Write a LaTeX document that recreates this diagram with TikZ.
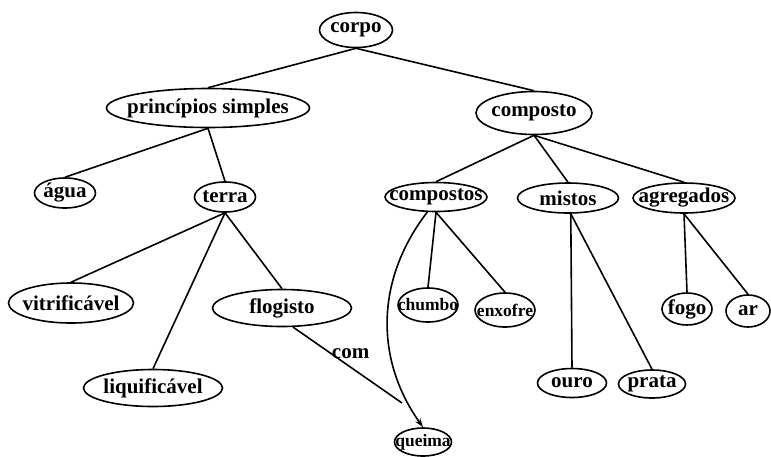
\documentclass[tikz,border=0pt]{standalone}
\usepackage{fontspec}
\setmainfont{Liberation Serif}
\usepackage{tikz}
\usetikzlibrary{shapes.geometric,arrows.meta}
\newcommand{\nb}[1]{\makebox[0pt]{#1}}

\begin{document}
\begin{tikzpicture}[x=1pt,y=-1pt,line width=1.6pt,
    every node/.style={font=\fontsize{21}{25}\selectfont\bfseries},
    conc/.style 2 args={ellipse, draw, inner sep=0pt, minimum width=#1, minimum height=#2},
    tiny/.style={font=\fontsize{17.5}{21}\selectfont\bfseries}]
      \useasboundingbox (0,0) rectangle (771,456);
      \node[name=corpo, conc={73pt}{35pt}] at (356,30) {\nb{corpo}};
      \node[name=simples, conc={203pt}{39pt}] at (208,108) {\nb{princípios simples}};
      \node[name=agua, conc={61pt}{30pt}] at (65,193) {\nb{água}};
      \node[name=terra, conc={61pt}{30pt}] at (225,197) {\nb{terra}};
      \node[name=composto, conc={116pt}{43pt}] at (534,113) {\nb{composto}};
      \node[name=compostos, conc={102pt}{29pt}] at (436,197) {\nb{compostos}};
      \node[name=mistos, conc={101pt}{30pt}] at (568,198) {\nb{mistos}};
      \node[name=agregados, conc={102pt}{30pt}] at (684,198) {\nb{agregados}};
      \node[name=vitri, conc={125pt}{40pt}] at (71,303) {\nb{vitrificável}};
      \node[name=liqui, conc={139pt}{37pt}] at (153,388) {\nb{liquificável}};
      \node[name=flogisto, conc={139pt}{37pt}] at (282,308) {\nb{flogisto}};
      \node[name=chumbo, conc={60pt}{34pt}, tiny] at (428,305) {\nb{chumbo}};
      \node[name=enxofre, conc={60pt}{34pt}, tiny] at (505,310) {\nb{enxofre}};
      \node[name=fogo, conc={50pt}{32pt}] at (687,309) {\nb{fogo}};
      \node[name=ar, conc={44pt}{32pt}] at (748,311) {\nb{ar}};
      \node[name=ouro, conc={69pt}{29pt}] at (572,383) {\nb{ouro}};
      \node[name=prata, conc={67pt}{28pt}] at (652,384) {\nb{prata}};
      \node[name=queima, conc={57pt}{28pt}, tiny] at (423,442) {\nb{queima}};
      \coordinate (meet) at (402,403);
      \draw (corpo.south) -- (simples.north);
      \draw (corpo.south) -- (composto.north);
      \draw (simples.south) -- (agua.north);
      \draw (simples.south) -- (terra.north);
      \draw (terra.south) -- (vitri.north);
      \draw (terra.south) -- (liqui.north);
      \draw (terra.south) -- (flogisto.north);
      \draw (composto.south) -- (compostos.north);
      \draw (composto.south) -- (mistos.north);
      \draw (composto.south) -- (agregados.north);
      \draw (compostos.south) -- (chumbo.north);
      \draw (compostos.south) -- (enxofre.north);
      \draw (mistos.280) -- (ouro.north);
      \draw (mistos.280) -- (prata.north);
      \draw (agregados.south) -- (fogo.north);
      \draw (agregados.south) -- (ar.north);
      \draw (flogisto.-60) -- node[name=com, pos=0.35, anchor=west, inner sep=0pt] {com} (meet);
      \draw[-{Stealth[length=9pt,width=6pt]}] (compostos.240) .. controls (375,280) and (375,360) .. (queima.north);
\end{tikzpicture}
\end{document}
